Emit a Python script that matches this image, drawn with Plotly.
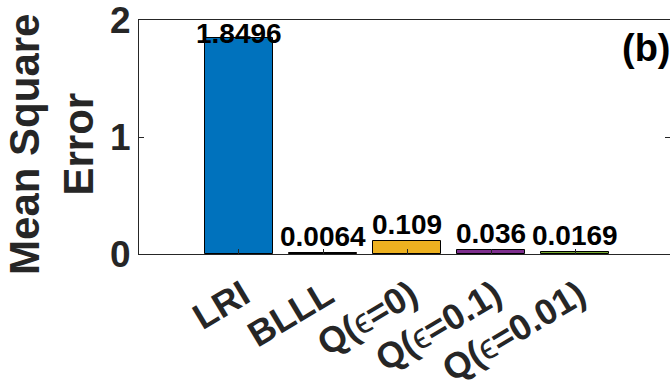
import plotly.graph_objects as go

# Mean square error for each method
methods = ["LRI", "BLLL", "Q(ϵ=0)", "Q(ϵ=0.1)", "Q(ϵ=0.01)"]
mse = [1.8496, 0.0064, 0.109, 0.036, 0.0169]
mse_labels = ["1.8496", "0.0064", "0.109", "0.036", "0.0169"]
bar_colors = ["#0072BD", "#D95319", "#EDB120", "#7E2F8E", "#77AC30"]
y_ticks = [0, 1, 2]

FONT = "Liberation Sans, Arial, Helvetica, sans-serif"
AXIS_COLOR = "#262626"
label_shift = [-13, -1, -1, -1, -1]


def tick_text(name):
    # keep the epsilon in regular weight like a math symbol
    return name.replace("ϵ", '<span style="font-weight:normal">ϵ</span>')


x_pos = list(range(len(methods)))

fig = go.Figure()
fig.add_trace(go.Bar(
    x=x_pos,
    y=mse,
    width=0.8,
    marker=dict(color=bar_colors, line=dict(color="#000000", width=1)),
    showlegend=False,
    hoverinfo="skip",
))

for xi, v, lab, sh in zip(x_pos, mse, mse_labels, label_shift):
    fig.add_annotation(
        x=xi, y=v, xref="x", yref="y",
        text=f"<b>{lab}</b>", showarrow=False,
        xanchor="center", yanchor="bottom", yshift=sh,
        font=dict(family=FONT, size=28, color="#000000"),
    )

# panel tag
fig.add_annotation(
    x=1.0, y=0.88, xref="paper", yref="paper",
    text="<b>(b)</b>", showarrow=False,
    xanchor="right", yanchor="middle", xshift=3,
    font=dict(family=FONT, size=38, color="#000000"),
)

# y-axis title
fig.add_annotation(
    x=-0.164, y=0.47, xref="paper", yref="paper",
    text="<b>Mean Square<br>Error</b>", showarrow=False,
    textangle=-90, xanchor="center", yanchor="middle",
    font=dict(family=FONT, size=42, color=AXIS_COLOR),
)

fig.update_layout(
    template="none",
    width=670, height=381,
    margin=dict(l=139, r=0, t=20, b=127, autoexpand=False),
    paper_bgcolor="white", plot_bgcolor="white",
    bargap=0,
    font=dict(family=FONT, color=AXIS_COLOR),
)

fig.update_xaxes(
    automargin=False,
    range=[-1.19, 5.13],
    tickmode="array", tickvals=x_pos,
    ticktext=[f"<b>{tick_text(m)}</b>" for m in methods],
    tickangle=-31,
    tickfont=dict(family=FONT, size=36, color=AXIS_COLOR),
    ticklabelshift=4, ticklabelstandoff=5,
    ticklabeloverflow="allow",
    ticks="inside", ticklen=5, tickcolor=AXIS_COLOR, tickwidth=1,
    showline=True, linecolor=AXIS_COLOR, linewidth=1, mirror=True,
    showgrid=False, zeroline=False,
)
fig.update_yaxes(
    automargin=False,
    range=[0, 2],
    tickmode="array", tickvals=y_ticks,
    ticktext=[f"<b>{t}</b>" for t in y_ticks],
    tickfont=dict(family=FONT, size=37, color=AXIS_COLOR),
    ticklabeloverflow="allow",
    ticks="inside", ticklen=5, tickcolor=AXIS_COLOR, tickwidth=1,
    showline=True, linecolor=AXIS_COLOR, linewidth=1, mirror="ticks",
    showgrid=False, zeroline=False,
)

fig.write_html("out.html")
